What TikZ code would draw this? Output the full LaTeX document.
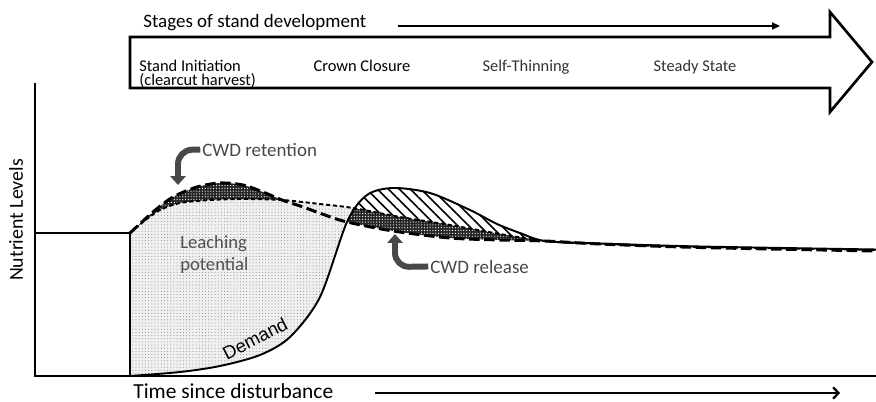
\documentclass[tikz,border=0pt]{standalone}
\usepackage{fontspec}
\setmainfont{Carlito}
\newfontfamily\arialfont{Liberation Sans}
\usepackage{xcolor}
\usetikzlibrary{arrows.meta, patterns.meta}
\definecolor{cwdgray}{RGB}{72,72,72}
\definecolor{labelgray}{RGB}{80,80,80}

\tikzset{
  axisline/.style={line width=1.2pt},
  shortdash/.style={line width=1.1pt, dash pattern=on 2.4pt off 1.5pt},
  longdash/.style={line width=1.7pt, dash pattern=on 6pt off 2.6pt},
  demandline/.style={line width=1.1pt},
  leachfill/.style={fill=gray!12, postaction={pattern={Dots[distance=1.8pt, radius=0.3pt]}, pattern color=gray!90}},
  cwdfill/.style={fill=black!85, postaction={pattern={Dots[distance=1.6pt, radius=0.35pt]}, pattern color=white}},
  hatchfill/.style={pattern={Lines[angle=-45, distance=4.4pt, line width=0.9pt]}, pattern color=black},
  cwdarrow/.style={line width=3.4pt, cwdgray, rounded corners=8pt, -{Triangle[width=8.5pt, length=5pt]}},
  titletext/.style={font=\fontsize{10.8}{13}\selectfont, inner sep=0pt},
  stagetext/.style={font=\fontsize{9.35}{8.3}\selectfont, inner sep=0pt},
  cwdtext/.style={font=\fontsize{10.8}{13}\selectfont, text=cwdgray, inner sep=0pt},
}

\begin{document}
\begin{tikzpicture}[x=0.02cm, y=-0.02cm]
\useasboundingbox (0,0) rectangle (876,402);

% stages arrow
\draw[line width=1.5pt, line join=miter] (130,37) -- (830,37) -- (830,12) -- (872,62) -- (830,112) -- (830,88) -- (130,88) -- cycle;
\node[titletext, anchor=base west] (stages) at (143,28) {Stages of stand development};
\coordinate (stagesA) at (398,26);
\coordinate (stagesB) at (780,26);
\draw[line width=0.85pt, -{Triangle[length=4.5pt, width=4pt]}] (stagesA) -- (stagesB);

\node[stagetext, anchor=north west, align=left] (init) at (139,59.5) {Stand Initiation\\(clearcut harvest)};
\node[stagetext, anchor=base] (crown) at (362,72) {Crown Closure};
\node[stagetext, anchor=base, text=black!80] (thin) at (526,72) {Self-Thinning};
\node[stagetext, anchor=base, text=black!80] (steady) at (695,72) {Steady State};

% filled areas
\fill[leachfill] plot[smooth] coordinates {(130,376) (180,372) (220,366) (260,355) (290,337) (320,297) (347,222)} -- (353,208)
  -- plot[smooth] coordinates {(353,208) (320,204) (282,200) (243,199) (210,200) (180,203) (160,210) (143,222) (130,233)} -- cycle;
\fill[cwdfill] plot[smooth] coordinates {(130,233) (153,212) (173,197) (197,187) (220,183) (243,185) (263,192) (282,200)}
  -- plot[smooth] coordinates {(282,200) (243,199) (210,200) (180,203) (160,210) (143,222) (130,233)} -- cycle;
\fill[cwdfill] (347,222) -- (353,208)
  -- plot[smooth] coordinates {(353,208) (400,217) (450,225) (500,234) (545,241)}
  -- plot[smooth] coordinates {(545,241) (500,240) (450,238) (393,231) (347,222)} -- cycle;
\fill[hatchfill] plot[smooth] coordinates {(353,208) (367,195) (393,188) (430,193) (470,210) (497,224) (520,233) (545,241)}
  -- plot[smooth] coordinates {(545,241) (500,234) (450,225) (400,217) (353,208)} -- cycle;

% curves
\draw[shortdash] plot[smooth] coordinates {(130,233) (143,222) (160,210) (180,203) (210,200) (243,199) (282,200) (320,204) (353,208) (400,217) (450,225) (500,234) (545,241) (600,244) (700,247) (876,250)};
\draw[longdash] plot[smooth] coordinates {(130,233) (153,212) (173,197) (197,187) (220,183) (243,185) (263,192) (282,200) (303,207) (325,215) (347,222) (393,231) (450,238) (500,240) (545,241) (600,244) (700,247.5) (876,251)};
\draw[demandline] plot[smooth] coordinates {(130,376) (180,372) (220,366) (260,355) (290,337) (320,297) (347,222) (367,195) (393,188) (430,193) (470,210) (497,224) (520,233) (545,241) (600,243.5) (700,246.5) (876,249.5)};

% axes
\coordinate (origin) at (35,376);
\coordinate (ytop) at (35,83);
\coordinate (xend) at (876,376);
\coordinate (pre) at (35,233);
\coordinate (cut) at (130,233);
\coordinate (cutbase) at (130,376);
\draw[axisline] (ytop) -- (origin) -- (xend);
\draw[line width=1.1pt] (pre) -- (cut) -- (cutbase);

\node[font=\fontsize{11.3}{13}\selectfont, rotate=90] (nutrient) at (16,220) {Nutrient Levels};
\node[font=\fontsize{12.2}{14}\selectfont, anchor=base west, inner sep=0pt] (time) at (133,398.5) {Time since disturbance};
\coordinate (timeA) at (375,393);
\coordinate (timeB) at (840,393);
\draw[line width=1.1pt, -{Straight Barb[length=3pt, width=6.5pt, line width=1.3pt]}] (timeA) -- (timeB);

% labels inside the graph
\node[font=\fontsize{10.6}{12.5}\selectfont, text=labelgray, anchor=base west, align=left, inner sep=0pt] (leach) at (180,270.5) {Leaching\\potential};
\node[font=\arialfont\fontsize{10.5}{12}\selectfont, rotate=27, inner sep=0pt] (demand) at (255,338.5) {Demand};

\node[cwdtext, anchor=base west] (retention) at (202,156) {CWD retention};
\coordinate (retTip) at (178,185);
\draw[cwdarrow] ([xshift=-1pt]retention.west) -- (178,150) -- (retTip);
\node[cwdtext, anchor=base west] (release) at (430,273) {CWD release};
\coordinate (relTip) at (395,234);
\draw[cwdarrow] ([xshift=-1pt]release.west) -- (395,267) -- (relTip);
\end{tikzpicture}
\end{document}
